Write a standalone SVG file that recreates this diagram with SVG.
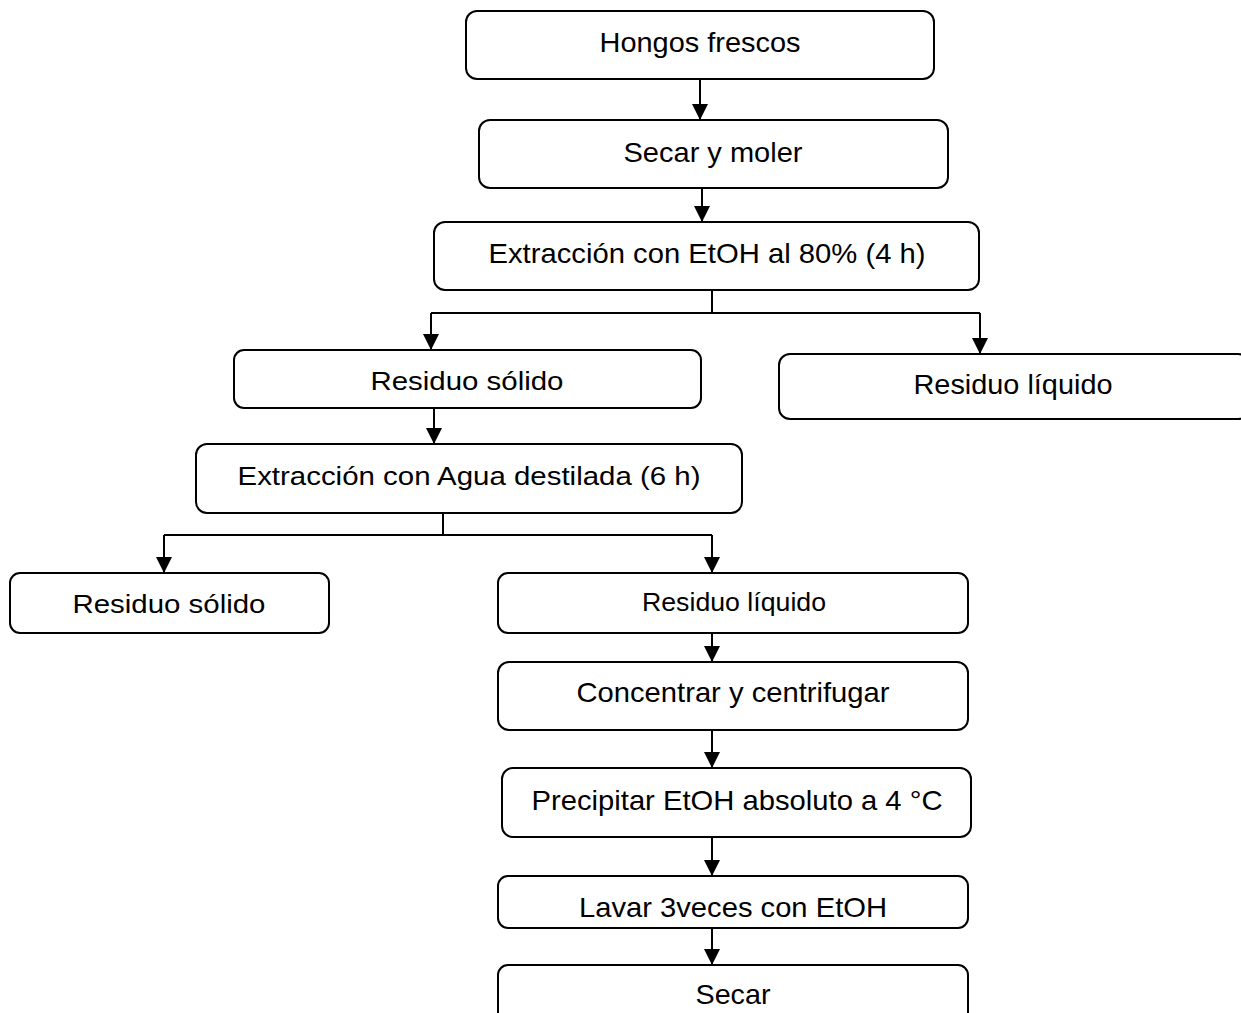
<svg xmlns="http://www.w3.org/2000/svg" width="1241" height="1013" viewBox="0 0 1241 1013">
<style>
.box{fill:#fff;stroke:#000;stroke-width:2}
.t{font-family:"Liberation Sans",Arial,sans-serif;font-size:28px;fill:#000;text-anchor:middle}
.s{font-size:25px}
.c{fill:none;stroke:#000;stroke-width:2}
</style>
<defs>
<marker id="ah" markerUnits="userSpaceOnUse" markerWidth="16" markerHeight="16" viewBox="0 0 16 16" refX="16" refY="8" orient="auto">
<path d="M0,0 L16,8 L0,16 Z" fill="#000"/>
</marker>
</defs>
<rect width="1241" height="1013" fill="#fff"/>
<g id="connectors">
<path class="c" d="M700,79 V120" marker-end="url(#ah)"/>
<path class="c" d="M702,186 V222" marker-end="url(#ah)"/>
<path class="c" d="M712,290 V313 M431,313 H980"/>
<path class="c" d="M431,313 V350" marker-end="url(#ah)"/>
<path class="c" d="M980,313 V354" marker-end="url(#ah)"/>
<path class="c" d="M434,406 V444" marker-end="url(#ah)"/>
<path class="c" d="M443,513 V535 M164,535 H712"/>
<path class="c" d="M164,535 V573" marker-end="url(#ah)"/>
<path class="c" d="M712,535 V573" marker-end="url(#ah)"/>
<path class="c" d="M712,633 V662" marker-end="url(#ah)"/>
<path class="c" d="M712,730 V768" marker-end="url(#ah)"/>
<path class="c" d="M712,837 V876" marker-end="url(#ah)"/>
<path class="c" d="M712,928 V965" marker-end="url(#ah)"/>
</g>
<g id="n1"><rect class="box" x="466" y="11" width="468" height="68" rx="11"/><text class="t" x="700" y="52" textLength="201" lengthAdjust="spacingAndGlyphs">Hongos frescos</text></g>
<g id="n2"><rect class="box" x="479" y="120" width="469" height="68" rx="11"/><text class="t" x="713" y="162" textLength="179" lengthAdjust="spacingAndGlyphs">Secar y moler</text></g>
<g id="n3"><rect class="box" x="434" y="222" width="545" height="68" rx="11"/><text class="t" x="707" y="263" textLength="437" lengthAdjust="spacingAndGlyphs">Extracción con EtOH al 80% (4 h)</text></g>
<g id="n4"><rect class="box" x="234" y="350" width="467" height="58" rx="10"/><text class="t s" x="467" y="390" textLength="193" lengthAdjust="spacingAndGlyphs">Residuo sólido</text></g>
<g id="n5"><rect class="box" x="779" y="354" width="470" height="65" rx="11"/><text class="t" x="1013" y="394" textLength="199" lengthAdjust="spacingAndGlyphs">Residuo líquido</text></g>
<g id="n6"><rect class="box" x="196" y="444" width="546" height="69" rx="11"/><text class="t s" x="469" y="485" textLength="463" lengthAdjust="spacingAndGlyphs">Extracción con Agua destilada (6 h)</text></g>
<g id="n7"><rect class="box" x="10" y="573" width="319" height="60" rx="10"/><text class="t s" x="169" y="613" textLength="193" lengthAdjust="spacingAndGlyphs">Residuo sólido</text></g>
<g id="n8"><rect class="box" x="498" y="573" width="470" height="60" rx="10"/><text class="t s" x="734" y="611" textLength="184" lengthAdjust="spacingAndGlyphs">Residuo líquido</text></g>
<g id="n9"><rect class="box" x="498" y="662" width="470" height="68" rx="11"/><text class="t" x="733" y="702" textLength="313" lengthAdjust="spacingAndGlyphs">Concentrar y centrifugar</text></g>
<g id="n10"><rect class="box" x="502" y="768" width="469" height="69" rx="11"/><text class="t" x="737" y="810" textLength="411" lengthAdjust="spacingAndGlyphs">Precipitar EtOH absoluto a 4 °C</text></g>
<g id="n11"><rect class="box" x="498" y="876" width="470" height="52" rx="10"/><text class="t" x="733" y="917" textLength="308" lengthAdjust="spacingAndGlyphs">Lavar 3veces con EtOH</text></g>
<g id="n12"><rect class="box" x="498" y="965" width="470" height="60" rx="10"/><text class="t" x="733" y="1004" textLength="75" lengthAdjust="spacingAndGlyphs">Secar</text></g>
</svg>
